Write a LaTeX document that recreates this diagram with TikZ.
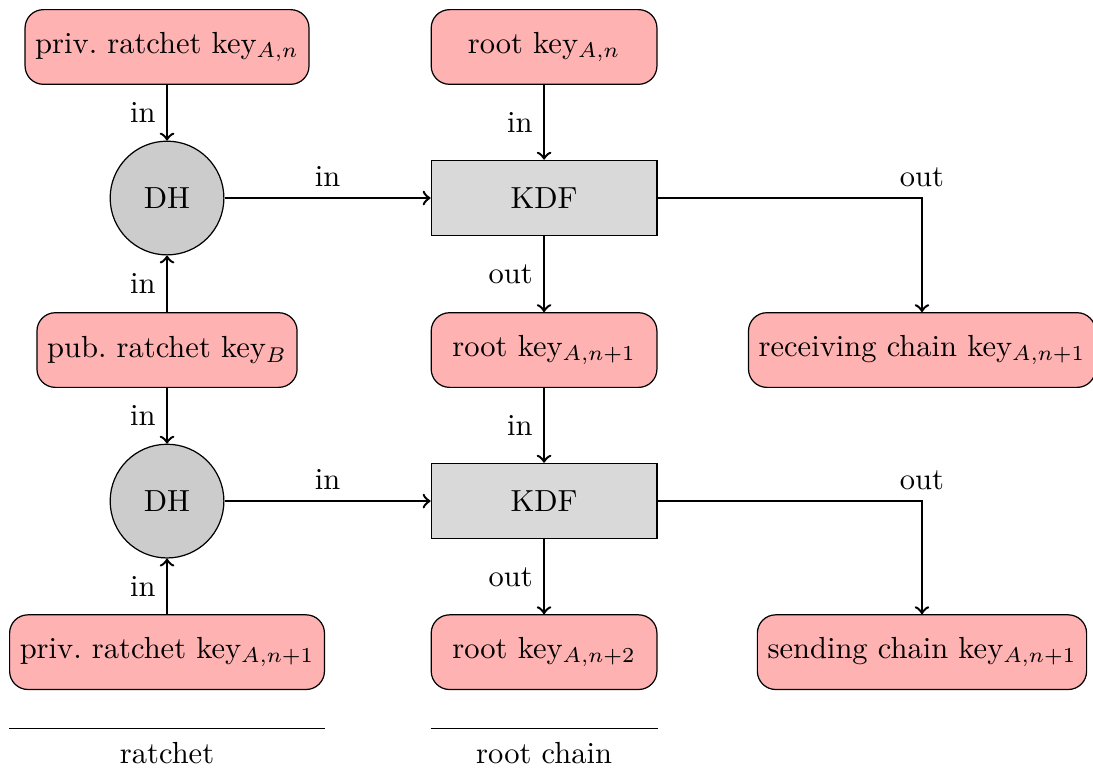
\documentclass[tikz,border=0pt]{standalone}
\usepackage{amsmath,amssymb}
\usepackage{tikz}
\usetikzlibrary{positioning}

\tikzset{
  key/.style={draw,rounded corners=6pt,fill=red!30,minimum width=2.6cm,minimum height=0.86cm},
  kdf/.style={draw,fill=black!15,minimum width=2.6cm,minimum height=0.87cm},
  dh/.style={draw,circle,fill=black!20,minimum size=1.31cm},
  flow/.style={->,thick}
}

\begin{document}
\begin{tikzpicture}
\useasboundingbox (0,0) rectangle (12.59,-8.836);
% ratchet column
\node (privA) at (1.924,-0.541) [key] {priv.\ ratchet key$_{A,n}$};
\node (dhA) at (1.924,-2.281) [dh] {DH};
\node (pubB) at (1.924,-4.032) [key] {pub.\ ratchet key$_{B}$};
\node (dhB) at (1.924,-5.772) [dh] {DH};
\node (privAn) at (1.924,-7.512) [key] {priv.\ ratchet key$_{A,n+1}$};
% root chain column
\node (root0) at (6.267,-0.541) [key] {root key$_{A,n}$};
\node (kdfA) at (6.267,-2.281) [kdf] {KDF};
\node (root1) at (6.267,-4.032) [key] {root key$_{A,n+1}$};
\node (kdfB) at (6.267,-5.772) [kdf] {KDF};
\node (root2) at (6.267,-7.512) [key] {root key$_{A,n+2}$};
% chain keys
\node (recv) at (10.62,-4.032) [key] {receiving chain key$_{A,n+1}$};
\node (send) at (10.62,-7.512) [key] {sending chain key$_{A,n+1}$};

\draw[flow] (privA) -- node[left] {in} (dhA);
\draw[flow] (pubB) -- node[left] {in} (dhA);
\draw[flow] (pubB) -- node[left] {in} (dhB);
\draw[flow] (privAn) -- node[left] {in} (dhB);
\draw[flow] (dhA) -- node[above] {in} (kdfA);
\draw[flow] (dhB) -- node[above] {in} (kdfB);
\draw[flow] (root0) -- node[left] {in} (kdfA);
\draw[flow] (kdfA) -- node[left] {out} (root1);
\draw[flow] (root1) -- node[left] {in} (kdfB);
\draw[flow] (kdfB) -- node[left] {out} (root2);
\draw[flow] (kdfA) -| node[pos=0.5,above] {out} (recv);
\draw[flow] (kdfB) -| node[pos=0.5,above] {out} (send);

% column captions
\coordinate (ratL) at ([yshift=-0.445cm]privAn.south west);
\coordinate (ratR) at ([yshift=-0.445cm]privAn.south east);
\coordinate (rcL) at ([yshift=-0.445cm]root2.south west);
\coordinate (rcR) at ([yshift=-0.445cm]root2.south east);
\draw (ratL) -- node[below=1pt] {ratchet} (ratR);
\draw (rcL) -- node[below=1pt] {root chain} (rcR);
\end{tikzpicture}
\end{document}
